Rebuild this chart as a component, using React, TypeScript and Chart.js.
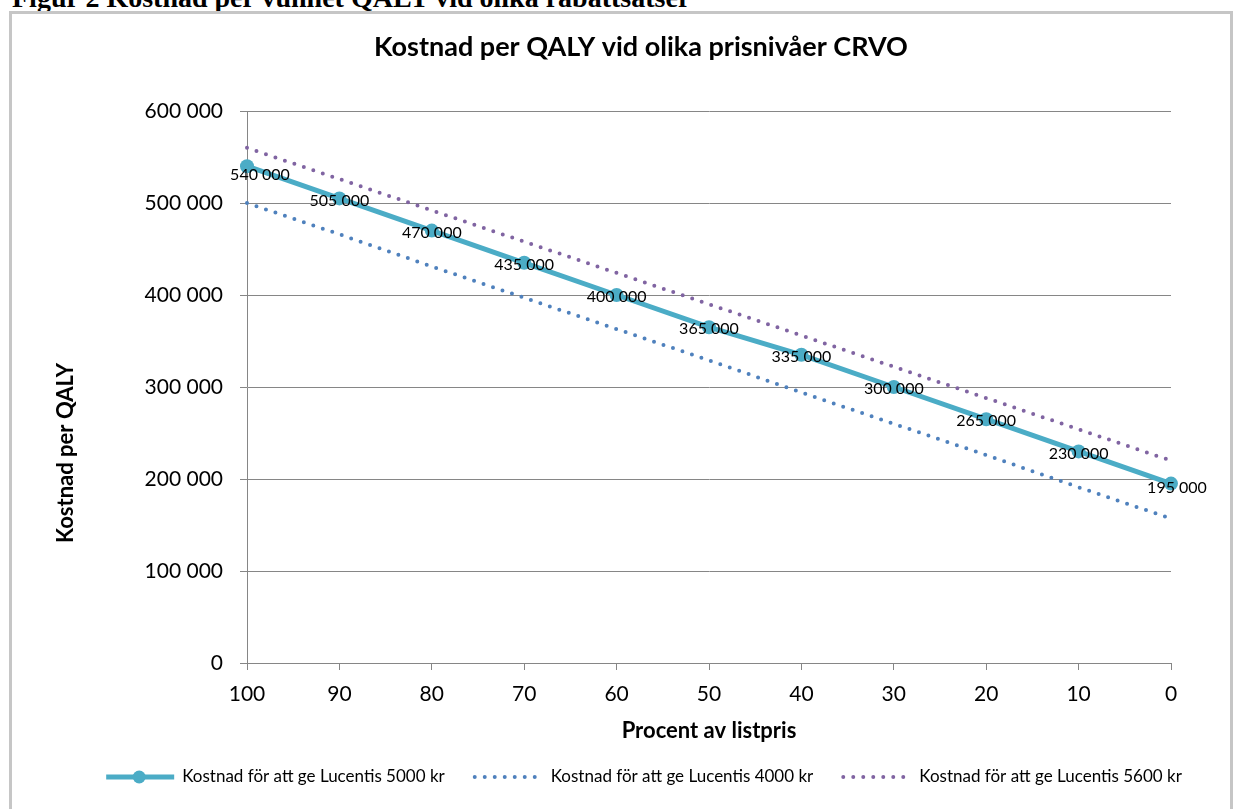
import React, { useEffect, useRef } from "react";
import { Chart, registerables } from "chart.js";

Chart.register(...registerables);

const FONT = "Lato, 'Open Sans', sans-serif";

const caption = "Figur 2 Kostnad per vunnet QALY vid olika rabattsatser";
const chartTitle = "Kostnad per QALY vid olika prisnivåer CRVO";
const xTitle = "Procent av listpris";
const yTitle = "Kostnad per QALY";

const categories = ["100", "90", "80", "70", "60", "50", "40", "30", "20", "10", "0"];
const cost5000 = [540000, 505000, 470000, 435000, 400000, 365000, 335000, 300000, 265000, 230000, 195000];
const cost4000 = [500000, 466000, 431000, 397000, 363000, 329000, 294000, 260000, 226000, 191000, 157000];
const cost5600 = [560000, 526000, 492000, 458000, 424000, 390000, 356000, 322000, 288000, 254000, 220000];
const yTicks = [0, 100000, 200000, 300000, 400000, 500000, 600000];
const seriesNames = [
  "Kostnad för att ge Lucentis 5000 kr",
  "Kostnad för att ge Lucentis 4000 kr",
  "Kostnad för att ge Lucentis 5600 kr",
];
const seriesColors = ["#4BACC6", "#4F81BD", "#8064A2"];

const fmt = (v: number) => String(v).replace(/\B(?=(\d{3})+(?!\d))/g, " ");

const overlayPlugin = {
  id: "overlay",
  afterDatasetsDraw(chart: any) {
    const ctx = chart.ctx;
    ctx.save();
    // data labels for the solid series
    const meta = chart.getDatasetMeta(0);
    ctx.font = `16px ${FONT}`;
    ctx.fillStyle = "#000";
    ctx.textAlign = "center";
    ctx.textBaseline = "middle";
    const last = meta.data.length - 1;
    meta.data.forEach((pt: any, i: number) => {
      let dx = 0;
      let dy = 2;
      if (i === 0) {
        dx = 13;
        dy = 9;
      } else if (i === last) {
        dx = 6;
        dy = 4;
      }
      ctx.fillText(fmt(cost5000[i]), pt.x + dx, pt.y + dy);
    });

    // chart title
    ctx.font = `bold 27px ${FONT}`;
    ctx.textAlign = "center";
    ctx.fillText(chartTitle, 641, 47);

    // y-axis title
    ctx.save();
    ctx.translate(66, 453);
    ctx.rotate(-Math.PI / 2);
    ctx.font = `bold 22px ${FONT}`;
    ctx.textAlign = "center";
    ctx.textBaseline = "middle";
    ctx.fillText(yTitle, 0, 0);
    ctx.restore();

    // legend
    ctx.font = `17px ${FONT}`;
    const sampleW = 70;
    const gap = 8;
    const itemGap = 28;
    const widths = seriesNames.map((n) => sampleW + gap + ctx.measureText(n).width);
    const total = widths.reduce((a, b) => a + b, 0) + itemGap * (widths.length - 1);
    let x = 643 - total / 2;
    const ly = 777;
    seriesNames.forEach((name, i) => {
      ctx.save();
      ctx.strokeStyle = seriesColors[i];
      ctx.beginPath();
      if (i === 0) {
        ctx.lineWidth = 5;
        ctx.lineCap = "butt";
        ctx.setLineDash([]);
      } else {
        ctx.lineWidth = 4;
        ctx.lineCap = "round";
        ctx.setLineDash([0, 10]);
      }
      ctx.moveTo(x + 2, ly);
      ctx.lineTo(x + sampleW, ly);
      ctx.stroke();
      if (i === 0) {
        ctx.fillStyle = seriesColors[0];
        ctx.beginPath();
        ctx.arc(x + sampleW / 2, ly, 6.5, 0, Math.PI * 2);
        ctx.fill();
      }
      ctx.restore();
      ctx.fillStyle = "#000";
      ctx.textAlign = "left";
      ctx.textBaseline = "middle";
      ctx.fillText(name, x + sampleW + gap, ly);
      x += widths[i] + itemGap;
    });
    ctx.restore();
  },
};

export default function App() {
  const ref = useRef<HTMLCanvasElement | null>(null);

  useEffect(() => {
    if (!ref.current) return;
    const chart = new Chart(ref.current, {
      type: "line",
      data: {
        labels: categories,
        datasets: [
          {
            label: seriesNames[0],
            data: cost5000,
            borderColor: seriesColors[0],
            backgroundColor: seriesColors[0],
            borderWidth: 5,
            pointRadius: 7,
            pointBorderWidth: 0,
            pointBackgroundColor: seriesColors[0],
            tension: 0,
            order: 0,
          },
          {
            label: seriesNames[1],
            data: cost4000,
            borderColor: seriesColors[1],
            borderWidth: 4,
            borderDash: [0, 10],
            borderCapStyle: "round",
            pointRadius: 0,
            tension: 0,
            order: 1,
          },
          {
            label: seriesNames[2],
            data: cost5600,
            borderColor: seriesColors[2],
            borderWidth: 4,
            borderDash: [0, 10],
            borderCapStyle: "round",
            pointRadius: 0,
            tension: 0,
            order: 2,
          },
        ],
      },
      options: {
        responsive: false,
        animation: false,
        layout: { padding: { left: 0, right: 64, top: 111, bottom: 0 } },
        plugins: {
          legend: { display: false },
          title: { display: false },
          tooltip: { enabled: false },
        },
        scales: {
          x: {
            type: "category",
            offset: false,
            grid: {
              drawOnChartArea: false,
              drawTicks: true,
              tickLength: 7,
              color: "#868686",
            },
            border: { color: "#868686", width: 1 },
            ticks: {
              font: { family: FONT, size: 21 },
              color: "#000",
              padding: 12,
              maxRotation: 0,
              autoSkip: false,
            },
            title: {
              display: true,
              text: xTitle,
              font: { family: FONT, size: 22, weight: "bold" },
              color: "#000",
              padding: { top: 0, bottom: 65 },
            },
            afterFit: (s: any) => {
              s.height = 146;
            },
          },
          y: {
            min: 0,
            max: 600000,
            afterBuildTicks: (s: any) => {
              s.ticks = yTicks.map((v) => ({ value: v }));
            },
            grid: {
              color: "#868686",
              lineWidth: 1,
              tickLength: 7,
              drawTicks: true,
            },
            border: { color: "#868686", width: 1 },
            ticks: {
              font: { family: FONT, size: 21 },
              color: "#000",
              padding: 17,
              callback: (v: any) => fmt(Number(v)),
            },
            title: { display: false },
            afterFit: (s: any) => {
              s.width = 247;
            },
          },
        },
      },
      plugins: [overlayPlugin],
    });
    return () => chart.destroy();
  }, []);

  return (
    <div
      style={{
        position: "absolute",
        left: 0,
        top: 0,
        width: 1235,
        height: 809,
        overflow: "hidden",
        background: "#fff",
      }}
    >
      <div
        style={{
          position: "absolute",
          left: 12,
          top: -16,
          whiteSpace: "nowrap",
          fontFamily: "'Liberation Serif', 'Times New Roman', serif",
          fontWeight: "bold",
          fontSize: 28,
          lineHeight: "28px",
          color: "#000",
        }}
      >
        {caption}
      </div>
      <div
        style={{
          position: "absolute",
          left: 9,
          top: 11,
          width: 1224,
          height: 830,
          boxSizing: "border-box",
          border: "3px solid #c6c6c6",
        }}
      />
      <canvas
        ref={ref}
        width={1235}
        height={809}
        style={{ position: "absolute", left: 0, top: 0, width: 1235, height: 809 }}
      />
    </div>
  );
}
